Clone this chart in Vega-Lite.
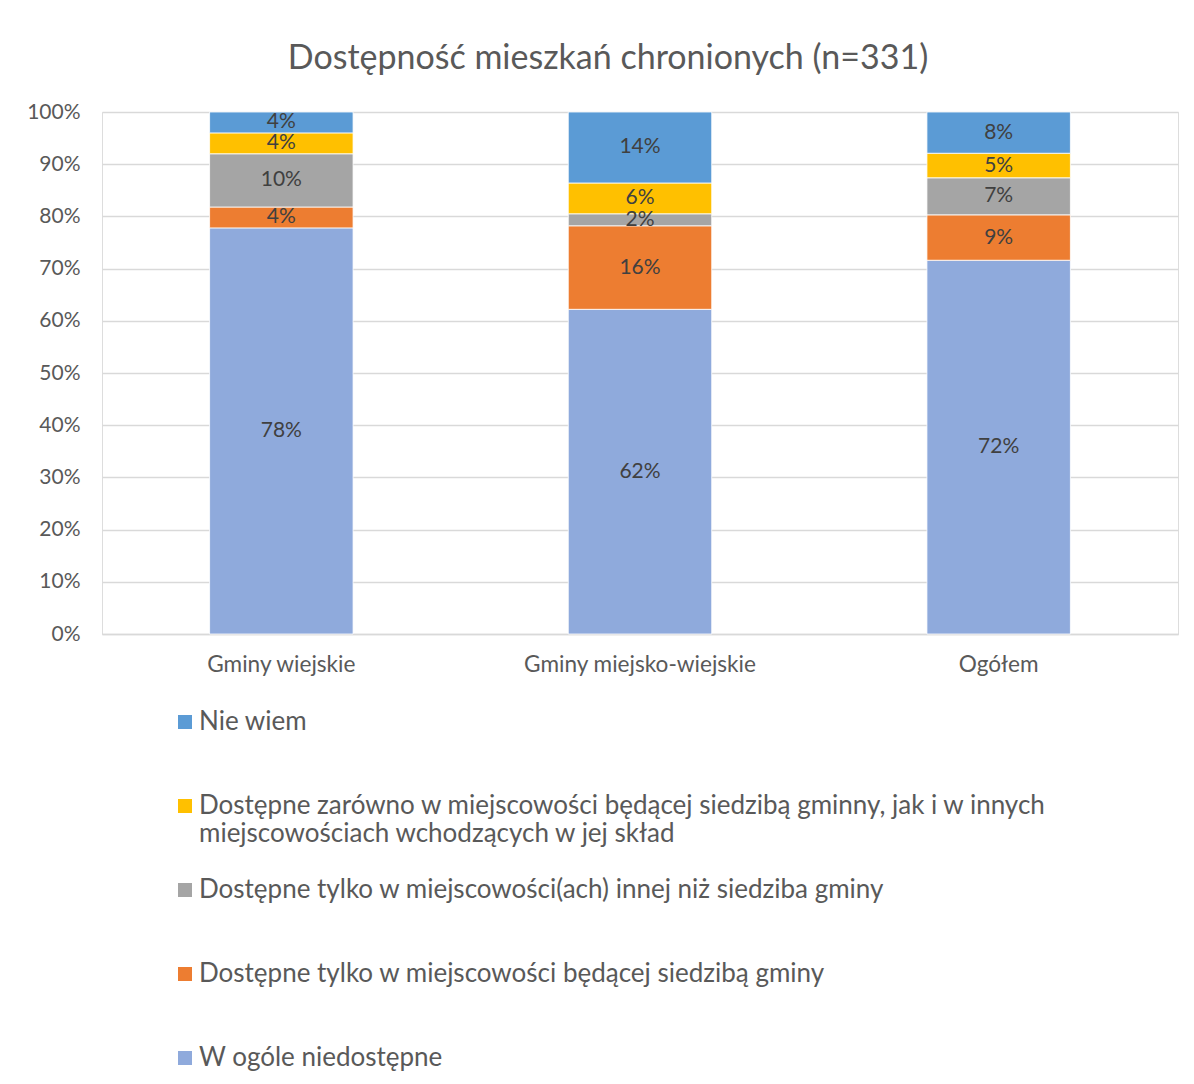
{
  "$schema": "https://vega.github.io/schema/vega-lite/v6.json",
  "autosize": {"type": "none"},
  "width": 1076,
  "height": 522,
  "padding": {"left": 102, "top": 112, "right": 16, "bottom": 450},
  "background": "white",
  "title": {
    "text": "Dostępność mieszkań chronionych (n=331)",
    "font": "Lato",
    "fontSize": 34,
    "fontWeight": "normal",
    "color": "#595959",
    "anchor": "middle",
    "frame": "group",
    "dx": -32,
    "baseline": "alphabetic",
    "offset": -2
  },
  "data": {
    "values": [
      {"gmina": "Gminy wiejskie", "kategoria": "W ogóle niedostępne", "udzial": 0.778},
      {"gmina": "Gminy wiejskie", "kategoria": "Dostępne tylko w miejscowości będącej siedzibą gminy", "udzial": 0.040},
      {"gmina": "Gminy wiejskie", "kategoria": "Dostępne tylko w miejscowości(ach) innej niż siedziba gminy", "udzial": 0.102},
      {"gmina": "Gminy wiejskie", "kategoria": "Dostępne zarówno w miejscowości będącej siedzibą gminny, jak i w innych miejscowościach wchodzących w jej skład", "udzial": 0.040},
      {"gmina": "Gminy wiejskie", "kategoria": "Nie wiem", "udzial": 0.040},
      {"gmina": "Gminy miejsko-wiejskie", "kategoria": "W ogóle niedostępne", "udzial": 0.622},
      {"gmina": "Gminy miejsko-wiejskie", "kategoria": "Dostępne tylko w miejscowości będącej siedzibą gminy", "udzial": 0.160},
      {"gmina": "Gminy miejsko-wiejskie", "kategoria": "Dostępne tylko w miejscowości(ach) innej niż siedziba gminy", "udzial": 0.023},
      {"gmina": "Gminy miejsko-wiejskie", "kategoria": "Dostępne zarówno w miejscowości będącej siedzibą gminny, jak i w innych miejscowościach wchodzących w jej skład", "udzial": 0.059},
      {"gmina": "Gminy miejsko-wiejskie", "kategoria": "Nie wiem", "udzial": 0.136},
      {"gmina": "Ogółem", "kategoria": "W ogóle niedostępne", "udzial": 0.716},
      {"gmina": "Ogółem", "kategoria": "Dostępne tylko w miejscowości będącej siedzibą gminy", "udzial": 0.087},
      {"gmina": "Ogółem", "kategoria": "Dostępne tylko w miejscowości(ach) innej niż siedziba gminy", "udzial": 0.071},
      {"gmina": "Ogółem", "kategoria": "Dostępne zarówno w miejscowości będącej siedzibą gminny, jak i w innych miejscowościach wchodzących w jej skład", "udzial": 0.047},
      {"gmina": "Ogółem", "kategoria": "Nie wiem", "udzial": 0.079}
    ]
  },
  "transform": [
    {"stack": "udzial", "groupby": ["gmina"], "as": ["v0", "v1"]},
    {"calculate": "(datum.v0 + datum.v1) / 2", "as": "vmid"}
  ],
  "encoding": {
    "x": {
      "field": "gmina",
      "type": "nominal",
      "sort": ["Gminy wiejskie", "Gminy miejsko-wiejskie", "Ogółem"],
      "scale": {"paddingInner": 0.6, "paddingOuter": 0.3},
      "axis": {
        "title": null,
        "labelAngle": 0,
        "labelFont": "Lato",
        "labelFontSize": 22.6,
        "labelLimit": 400,
        "labelColor": "#595959",
        "labelPadding": 19,
        "ticks": false,
        "domainColor": "#d9d9d9",
        "domainWidth": 1.3
      }
    }
  },
  "layer": [
    {
      "mark": {"type": "bar", "stroke": "white", "strokeWidth": 0.8},
      "encoding": {
        "y": {
          "field": "v0",
          "type": "quantitative",
          "scale": {"domain": [0, 1]},
          "axis": {
            "title": null,
            "format": ".0%",
            "values": [0, 0.1, 0.2, 0.3, 0.4, 0.5, 0.6, 0.7, 0.8, 0.9, 1],
            "labelFont": "Lato",
            "labelFontSize": 21,
            "labelColor": "#595959",
            "labelPadding": 22,
            "ticks": false,
            "domain": false,
            "gridColor": "#d9d9d9",
            "gridWidth": 1.3
          }
        },
        "y2": {"field": "v1"},
        "color": {
          "field": "kategoria",
          "type": "nominal",
          "scale": {
            "domain": [
              "Nie wiem",
              "Dostępne zarówno w miejscowości będącej siedzibą gminny, jak i w innych miejscowościach wchodzących w jej skład",
              "Dostępne tylko w miejscowości(ach) innej niż siedziba gminy",
              "Dostępne tylko w miejscowości będącej siedzibą gminy",
              "W ogóle niedostępne"
            ],
            "range": ["#5B9BD5", "#FFC000", "#A5A5A5", "#ED7D31", "#8FAADC"]
          },
          "legend": {
            "title": null,
            "orient": "none",
            "legendX": 70,
            "legendY": 597,
            "direction": "vertical",
            "symbolType": "square",
            "symbolSize": 196,
            "symbolStrokeWidth": 0,
            "symbolOpacity": 1,
            "labelFont": "Lato",
            "labelFontSize": 26,
            "labelColor": "#595959",
            "labelOffset": 1,
            "labelLimit": 1100,
            "labelLineHeight": 34,
            "rowPadding": 30,
            "labelExpr": "length(datum.label) > 80 ? [substring(datum.label, 0, 71), substring(datum.label, 72)] : [datum.label, ' ']"
          }
        }
      }
    },
    {
      "mark": {"type": "text", "font": "Lato", "fontSize": 21, "color": "#404040", "baseline": "middle"},
      "encoding": {
        "y": {"field": "vmid", "type": "quantitative"},
        "text": {"field": "udzial", "type": "quantitative", "format": ".0%"}
      }
    }
  ]
}
